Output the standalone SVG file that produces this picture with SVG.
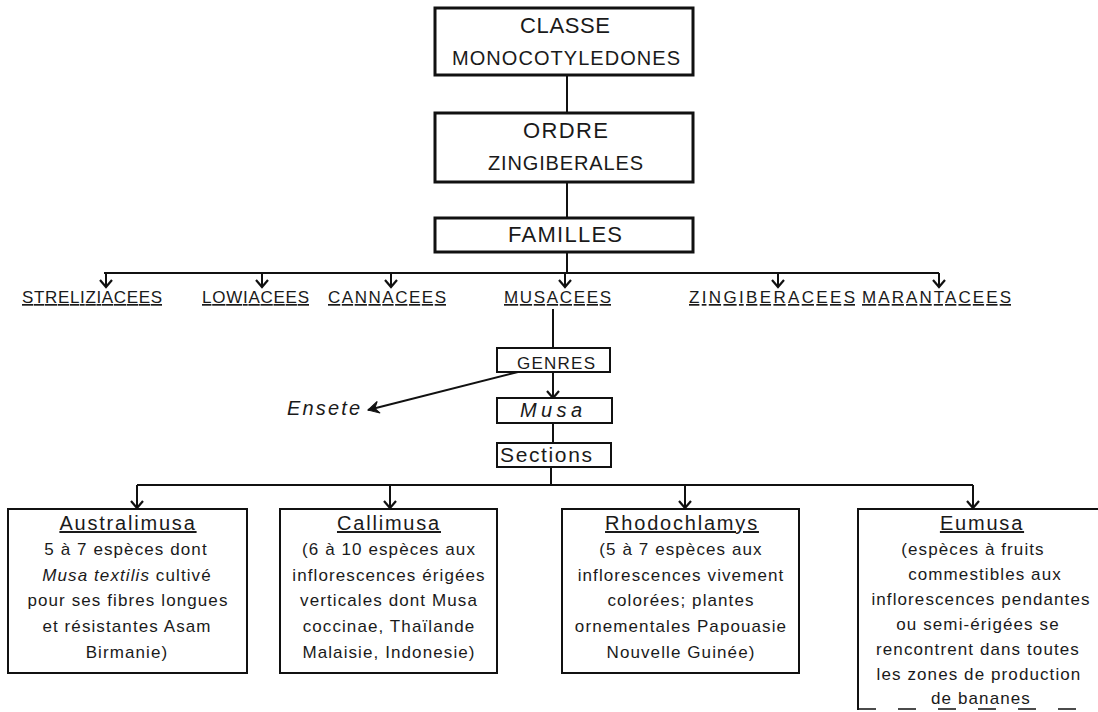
<svg xmlns="http://www.w3.org/2000/svg" width="1098" height="712" viewBox="0 0 1098 712">
<style>
  text { font-family: "Liberation Sans", Arial, sans-serif; fill: #1a1a1a; }
  .top { font-size: 22px; text-anchor: middle; }
  .fam { font-size: 17px; text-decoration: underline; }
  .title { font-size: 20px; text-anchor: middle; text-decoration: underline; letter-spacing: 1.8px; }
  .body { font-size: 17px; text-anchor: middle; letter-spacing: 1.1px; }
  .bx3 { fill: #fff; stroke: #111; stroke-width: 3; }
  .bx2 { fill: #fff; stroke: #111; stroke-width: 2; }
  .ln { stroke: #111; stroke-width: 2; fill: none; }
</style>
<defs>
  <marker id="v" markerUnits="userSpaceOnUse" markerWidth="20" markerHeight="20" viewBox="-10 -10 20 20" refX="0" refY="0" orient="auto">
    <path d="M-7,-6 L0,0 L-7,6" fill="none" stroke="#111" stroke-width="2.2"/>
  </marker>
  <marker id="f" markerUnits="userSpaceOnUse" markerWidth="20" markerHeight="20" viewBox="-12 -10 20 20" refX="0" refY="0" orient="auto">
    <path d="M0,0 L-11,-6 L-7,0 L-11,6 Z" fill="#111" stroke="#111" stroke-width="1"/>
  </marker>
</defs>
<rect width="1098" height="712" fill="#fff"/>

<g id="connectors">
  <line class="ln" x1="567" y1="75" x2="567" y2="113"/>
  <line class="ln" x1="567" y1="182" x2="567" y2="218"/>
  <line class="ln" x1="567" y1="252" x2="567" y2="273"/>
  <line class="ln" x1="104" y1="273" x2="939" y2="273"/>
  <line class="ln" x1="106" y1="273" x2="106" y2="287" marker-end="url(#v)"/>
  <line class="ln" x1="262" y1="273" x2="262" y2="287" marker-end="url(#v)"/>
  <line class="ln" x1="391" y1="273" x2="391" y2="287" marker-end="url(#v)"/>
  <line class="ln" x1="565" y1="273" x2="565" y2="287" marker-end="url(#v)"/>
  <line class="ln" x1="778" y1="273" x2="778" y2="287" marker-end="url(#v)"/>
  <line class="ln" x1="939" y1="273" x2="939" y2="287" marker-end="url(#v)"/>
  <line class="ln" x1="553" y1="309" x2="553" y2="348"/>
  <line class="ln" x1="553" y1="372" x2="553" y2="398" marker-end="url(#v)"/>
  <line class="ln" x1="522" y1="371" x2="368" y2="410" marker-end="url(#f)"/>
  <line class="ln" x1="553" y1="423" x2="553" y2="443"/>
  <line class="ln" x1="551" y1="467" x2="551" y2="485"/>
  <line class="ln" x1="137" y1="485" x2="973" y2="485"/>
  <line class="ln" x1="137" y1="485" x2="137" y2="508" marker-end="url(#v)"/>
  <line class="ln" x1="390" y1="485" x2="390" y2="508" marker-end="url(#v)"/>
  <line class="ln" x1="685" y1="485" x2="685" y2="508" marker-end="url(#v)"/>
  <line class="ln" x1="973" y1="485" x2="973" y2="508" marker-end="url(#v)"/>
</g>

<g id="classe">
  <rect class="bx3" x="435" y="8" width="258" height="67"/>
  <text class="top" x="565" y="33" textLength="90">CLASSE</text>
  <text class="top" x="566" y="65" textLength="228" style="font-size:20px">MONOCOTYLEDONES</text>
</g>
<g id="ordre">
  <rect class="bx3" x="435" y="113" width="258" height="69"/>
  <text class="top" x="565.5" y="138" textLength="85">ORDRE</text>
  <text class="top" x="565.5" y="170" textLength="155" style="font-size:20px">ZINGIBERALES</text>
</g>
<g id="familles">
  <rect class="bx3" x="435" y="218" width="258" height="34"/>
  <text class="top" x="565" y="242" textLength="114">FAMILLES</text>
</g>

<g id="strelitziacees"><text class="fam" x="22" y="303" textLength="140">STRELIZIACEES</text></g>
<g id="lowiacees"><text class="fam" x="202" y="303" textLength="107">LOWIACEES</text></g>
<g id="cannacees"><text class="fam" x="328" y="303" textLength="118">CANNACEES</text></g>
<g id="musacees"><text class="fam" x="504" y="303" textLength="107">MUSACEES</text></g>
<g id="zingiberacees"><text class="fam" x="689" y="303" textLength="166">ZINGIBERACEES</text></g>
<g id="marantacees"><text class="fam" x="862" y="303" textLength="149">MARANTACEES</text></g>

<g id="genres">
  <rect class="bx2" x="497" y="348" width="113" height="24"/>
  <text x="517" y="369" font-size="17" textLength="78">GENRES</text>
</g>
<g id="ensete">
  <text x="287" y="415" font-size="20" font-style="italic" textLength="73">Ensete</text>
</g>
<g id="musa">
  <rect class="bx2" x="497" y="398" width="115" height="25"/>
  <text x="520" y="417" font-size="20" font-style="italic" textLength="62">Musa</text>
</g>
<g id="sections">
  <rect class="bx2" x="497" y="443" width="114" height="24"/>
  <text x="500" y="462" font-size="21" textLength="92">Sections</text>
</g>

<g id="australimusa">
  <rect class="bx2" x="8" y="509" width="239" height="164"/>
  <text class="title" x="128" y="530">Australimusa</text>
  <text class="body" x="126" y="555">5 à 7 espèces dont</text>
  <text class="body" x="127" y="581"><tspan font-style="italic">Musa textilis</tspan> cultivé</text>
  <text class="body" x="128" y="606">pour ses fibres longues</text>
  <text class="body" x="127" y="632">et résistantes Asam</text>
  <text class="body" x="127" y="658">Birmanie)</text>
</g>
<g id="callimusa">
  <rect class="bx2" x="280" y="509" width="217" height="164"/>
  <text class="title" x="389" y="530">Callimusa</text>
  <text class="body" x="389" y="555">(6 à 10 espèces aux</text>
  <text class="body" x="389" y="581">inflorescences érigées</text>
  <text class="body" x="389" y="606">verticales dont Musa</text>
  <text class="body" x="389" y="632">coccinae, Thaïlande</text>
  <text class="body" x="389" y="658">Malaisie, Indonesie)</text>
</g>
<g id="rhodochlamys">
  <rect class="bx2" x="562" y="509" width="237" height="164"/>
  <text class="title" x="682" y="530">Rhodochlamys</text>
  <text class="body" x="681" y="555">(5 à 7 espèces aux</text>
  <text class="body" x="681" y="581">inflorescences vivement</text>
  <text class="body" x="681" y="606">colorées; plantes</text>
  <text class="body" x="681" y="632">ornementales Papouasie</text>
  <text class="body" x="681" y="658">Nouvelle Guinée)</text>
</g>
<g id="eumusa">
  <path class="ln" d="M1098,509 H858 V710"/>
  <line x1="858" y1="709" x2="1098" y2="709" stroke="#111" stroke-width="1.5" stroke-dasharray="18,22"/>
  <text class="title" x="982" y="530">Eumusa</text>
  <text class="body" x="973" y="555">(espèces à fruits</text>
  <text class="body" x="985" y="580">commestibles aux</text>
  <text class="body" x="981" y="605">inflorescences pendantes</text>
  <text class="body" x="978" y="630">ou semi-érigées se</text>
  <text class="body" x="978" y="655">rencontrent dans toutes</text>
  <text class="body" x="979" y="680">les zones de production</text>
  <text class="body" x="981" y="704">de bananes</text>
</g>
</svg>
